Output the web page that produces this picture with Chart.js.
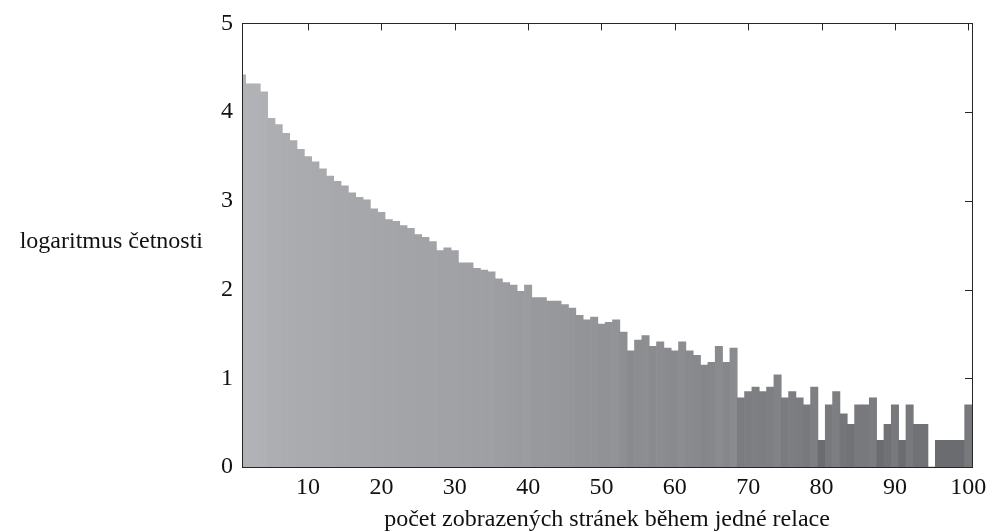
<!DOCTYPE html>
<html>
<head>
<meta charset="utf-8">
<script src="https://cdn.jsdelivr.net/npm/chart.js@4.4.0/dist/chart.umd.min.js"></script>
<style>
  html, body { margin: 0; padding: 0; background: #fff; }
  canvas { display: block; }
</style>
</head>
<body>
<canvas id="chart" width="993" height="532"></canvas>
<script>
// pages viewed per session (1..100) and log10 of how often each occurred
const pageCounts = [
  1, 2, 3, 4, 5, 6, 7, 8, 9, 10, 11, 12, 13, 14, 15, 16, 17, 18, 19, 20,
  21, 22, 23, 24, 25, 26, 27, 28, 29, 30, 31, 32, 33, 34, 35, 36, 37, 38, 39, 40,
  41, 42, 43, 44, 45, 46, 47, 48, 49, 50, 51, 52, 53, 54, 55, 56, 57, 58, 59, 60,
  61, 62, 63, 64, 65, 66, 67, 68, 69, 70, 71, 72, 73, 74, 75, 76, 77, 78, 79, 80,
  81, 82, 83, 84, 85, 86, 87, 88, 89, 90, 91, 92, 93, 94, 95, 96, 97, 98, 99, 100
];
const logCounts = [
  4.42, 4.32, 4.32, 4.23, 3.93, 3.86, 3.76, 3.68, 3.58, 3.50,
  3.44, 3.36, 3.28, 3.22, 3.17, 3.09, 3.04, 3.01, 2.91, 2.87,
  2.79, 2.77, 2.72, 2.69, 2.62, 2.59, 2.54, 2.44, 2.47, 2.44,
  2.30, 2.30, 2.24, 2.22, 2.20, 2.12, 2.08, 2.05, 1.98, 2.05,
  1.91, 1.91, 1.87, 1.87, 1.83, 1.79, 1.71, 1.66, 1.69, 1.61,
  1.63, 1.66, 1.52, 1.31, 1.43, 1.48, 1.36, 1.41, 1.34, 1.31,
  1.41, 1.31, 1.26, 1.15, 1.18, 1.36, 1.18, 1.34, 0.78, 0.85,
  0.90, 0.85, 0.90, 1.04, 0.78, 0.85, 0.78, 0.70, 0.90, 0.30,
  0.70, 0.85, 0.60, 0.48, 0.70, 0.70, 0.78, 0.30, 0.48, 0.70,
  0.30, 0.70, 0.48, 0.48, 0.00, 0.30, 0.30, 0.30, 0.30, 0.70
];
const xTickValues = [10, 20, 30, 40, 50, 60, 70, 80, 90, 100];
const yTickValues = [0, 1, 2, 3, 4, 5];
const xTitle = 'počet zobrazených stránek během jedné relace';
const yTitle = 'logaritmus četnosti';

const serif = '"Liberation Serif", "Times New Roman", serif';
const fontSize = 24;
const tickLen = 7;
const axisColor = '#262626';

// grey ramp, taller bars come out lighter
const shadeStops = [[0, 100], [0.3, 108], [0.85, 126], [1.3, 138], [2.2, 160], [4.5, 179]];
function barShade(h) {
  let v = shadeStops[shadeStops.length - 1][1];
  for (let i = 1; i < shadeStops.length; i++) {
    const [h0, v0] = shadeStops[i - 1];
    const [h1, v1] = shadeStops[i];
    if (h <= h1) {
      v = v0 + (v1 - v0) * Math.max(0, (h - h0) / (h1 - h0));
      break;
    }
  }
  v = Math.round(v);
  return `rgb(${v - 1}, ${v}, ${v + 4})`;
}

// box round the plot with inward ticks, plus the horizontal y label
const axesBox = {
  id: 'axesBox',
  beforeDatasetsDraw(chart) {
    const { ctx, chartArea: a, scales: { x, y } } = chart;
    ctx.save();
    ctx.strokeStyle = axisColor;
    ctx.lineWidth = 1;
    ctx.beginPath();
    for (const v of xTickValues) {
      const px = Math.round(x.getPixelForValue(v)) + 0.5;
      ctx.moveTo(px, a.top); ctx.lineTo(px, a.top + tickLen);
      ctx.moveTo(px, a.bottom); ctx.lineTo(px, a.bottom - tickLen);
    }
    for (const v of yTickValues) {
      const py = Math.round(y.getPixelForValue(v)) + 0.5;
      ctx.moveTo(a.left, py); ctx.lineTo(a.left + tickLen, py);
      ctx.moveTo(a.right, py); ctx.lineTo(a.right - tickLen, py);
    }
    ctx.stroke();
    ctx.restore();
  },
  afterDatasetsDraw(chart) {
    const { ctx, chartArea: a } = chart;
    ctx.save();
    ctx.strokeStyle = axisColor;
    ctx.lineWidth = 1;
    ctx.strokeRect(Math.round(a.left) + 0.5, Math.round(a.top) + 0.5,
      Math.round(a.right - a.left), Math.round(a.bottom - a.top));
    ctx.fillStyle = '#111';
    ctx.font = `${fontSize}px ${serif}`;
    ctx.textAlign = 'right';
    ctx.textBaseline = 'middle';
    ctx.fillText(yTitle, a.left - 39, (a.top + a.bottom) / 2 - 3);
    ctx.restore();
  }
};

new Chart(document.getElementById('chart'), {
  type: 'bar',
  data: {
    datasets: [{
      data: pageCounts.map((p, i) => ({ x: p, y: logCounts[i] })),
      backgroundColor: c => barShade(c.raw ? c.raw.y : 0),
      borderWidth: 0,
      barPercentage: 1,
      categoryPercentage: 1,
      clip: 0
    }]
  },
  options: {
    responsive: false,
    animation: false,
    layout: { padding: { top: 19, right: 21, left: 0, bottom: 0 } },
    plugins: { legend: { display: false }, tooltip: { enabled: false } },
    scales: {
      x: {
        type: 'linear',
        offset: false,
        min: 1,
        max: 100.5,
        grid: { display: false, drawTicks: false, offset: false },
        border: { display: false },
        afterBuildTicks: s => { s.ticks = xTickValues.map(v => ({ value: v })); },
        afterFit: s => { s.height = 65; },
        ticks: {
          padding: 6,
          color: '#111',
          maxRotation: 0,
          autoSkip: false,
          font: { family: serif, size: fontSize }
        },
        title: {
          display: true,
          text: xTitle,
          color: '#111',
          padding: 0,
          font: { family: serif, size: fontSize, lineHeight: 1.0 }
        }
      },
      y: {
        min: 0,
        max: 5,
        grid: { display: false, drawTicks: false },
        border: { display: false },
        afterBuildTicks: s => { s.ticks = yTickValues.map(v => ({ value: v })); },
        afterFit: s => { s.width = 242; },
        ticks: {
          padding: 9,
          color: '#111',
          font: { family: serif, size: fontSize }
        }
      }
    }
  },
  plugins: [axesBox]
});
</script>
</body>
</html>
